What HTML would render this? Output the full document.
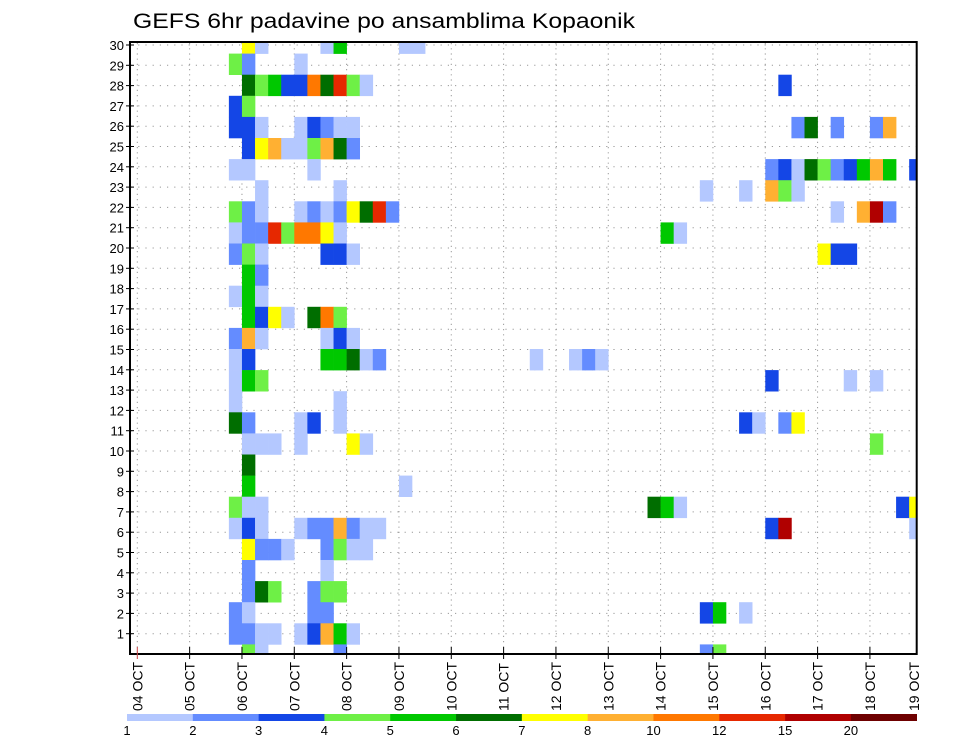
<!DOCTYPE html>
<html><head><meta charset="utf-8"><style>
html,body{margin:0;padding:0;background:#fff;}
svg{display:block;font-family:"Liberation Sans",sans-serif;}
</style></head><body>
<svg id="chart" width="960" height="742" viewBox="0 0 960 742" xmlns="http://www.w3.org/2000/svg">
<text x="133" y="28" font-size="21" textLength="502" lengthAdjust="spacingAndGlyphs" fill="#000">GEFS 6hr padavine po ansamblima Kopaonik</text>
<defs><clipPath id="plotclip"><rect x="130" y="42" width="786.7" height="612"/></clipPath></defs>
<g id="grid"></g>
<g id="cells" clip-path="url(#plotclip)"></g>
<rect x="130" y="42" width="786.7" height="612" fill="none" stroke="#000" stroke-width="2"/>
<g id="yaxis"></g>
<g id="xaxis"></g>
<g id="legend"></g>
</svg>
<script>
// x categories: day labels (04 OCT .. 19 OCT)
const dayLabels = ["04 OCT","05 OCT","06 OCT","07 OCT","08 OCT","09 OCT","10 OCT","11 OCT","12 OCT","13 OCT","14 OCT","15 OCT","16 OCT","17 OCT","18 OCT","19 OCT"];
// y categories: ensemble members
const memberLabels = [1,2,3,4,5,6,7,8,9,10,11,12,13,14,15,16,17,18,19,20,21,22,23,24,25,26,27,28,29,30];
// colorbar levels (mm) and colours
const levels = [1,2,3,4,5,6,7,8,10,12,15,20];
const levelColors = ["#b4c8ff","#648cff","#1446e6","#6ef046","#00c800","#006e00","#ffff00","#ffb032","#ff7800","#e62800","#b00000","#6e0000"];
// cells: [member, 6h step from 04 OCT 00Z, precipitation]
const cells = [
[30,8,7.5],[30,9,1.5],[30,14,1.5],[30,15,5.5],[30,20,1.5],[30,21,1.5],
[29,7,4.5],[29,8,2.5],[29,12,1.5],
[28,8,6.5],[28,9,4.5],[28,10,5.5],[28,11,3.5],[28,12,3.5],[28,13,11],[28,14,6.5],[28,15,13.5],[28,16,4.5],[28,17,1.5],[28,49,3.5],
[27,7,3.5],[27,8,4.5],
[26,7,3.5],[26,8,3.5],[26,9,1.5],[26,12,1.5],[26,13,3.5],[26,14,2.5],[26,15,1.5],[26,16,1.5],[26,50,2.5],[26,51,6.5],[26,53,2.5],[26,56,2.5],[26,57,9],
[25,8,3.5],[25,9,7.5],[25,10,9],[25,11,1.5],[25,12,1.5],[25,13,4.5],[25,14,9],[25,15,6.5],[25,16,2.5],
[24,7,1.5],[24,8,1.5],[24,13,1.5],[24,48,2.5],[24,49,3.5],[24,50,1.5],[24,51,6.5],[24,52,4.5],[24,53,2.5],[24,54,3.5],[24,55,5.5],[24,56,9],[24,57,5.5],[24,59,3.5],
[23,9,1.5],[23,15,1.5],[23,43,1.5],[23,46,1.5],[23,48,9],[23,49,4.5],[23,50,1.5],
[22,7,4.5],[22,8,2.5],[22,9,1.5],[22,12,1.5],[22,13,2.5],[22,14,1.5],[22,15,2.5],[22,16,7.5],[22,17,6.5],[22,18,13.5],[22,19,2.5],[22,53,1.5],[22,55,9],[22,56,17],[22,57,2.5],
[21,7,1.5],[21,8,2.5],[21,9,2.5],[21,10,13.5],[21,11,4.5],[21,12,11],[21,13,11],[21,14,7.5],[21,15,1.5],[21,40,5.5],[21,41,1.5],
[20,7,2.5],[20,8,4.5],[20,9,1.5],[20,14,3.5],[20,15,3.5],[20,16,1.5],[20,52,7.5],[20,53,3.5],[20,54,3.5],
[19,8,5.5],[19,9,2.5],
[18,7,1.5],[18,8,5.5],[18,9,1.5],
[17,8,5.5],[17,9,3.5],[17,10,7.5],[17,11,1.5],[17,13,6.5],[17,14,11],[17,15,4.5],
[16,7,2.5],[16,8,9],[16,9,1.5],[16,14,1.5],[16,15,3.5],[16,16,1.5],
[15,7,1.5],[15,8,3.5],[15,14,5.5],[15,15,5.5],[15,16,6.5],[15,17,1.5],[15,18,2.5],[15,30,1.5],[15,33,1.5],[15,34,2.5],[15,35,1.5],
[14,7,1.5],[14,8,5.5],[14,9,4.5],[14,48,3.5],[14,54,1.5],[14,56,1.5],
[13,7,1.5],[13,15,1.5],
[12,7,6.5],[12,8,2.5],[12,12,1.5],[12,13,3.5],[12,15,1.5],[12,46,3.5],[12,47,1.5],[12,49,2.5],[12,50,7.5],
[11,8,1.5],[11,9,1.5],[11,10,1.5],[11,12,1.5],[11,16,7.5],[11,17,1.5],[11,56,4.5],
[10,8,6.5],
[9,8,5.5],[9,20,1.5],
[8,7,4.5],[8,8,1.5],[8,9,1.5],[8,39,6.5],[8,40,5.5],[8,41,1.5],[8,58,3.5],[8,59,7.5],
[7,7,1.5],[7,8,3.5],[7,9,1.5],[7,12,1.5],[7,13,2.5],[7,14,2.5],[7,15,9],[7,16,2.5],[7,17,1.5],[7,18,1.5],[7,48,3.5],[7,49,17],[7,59,1.5],
[6,8,7.5],[6,9,2.5],[6,10,2.5],[6,11,1.5],[6,14,2.5],[6,15,4.5],[6,16,1.5],[6,17,1.5],
[5,8,2.5],[5,14,1.5],
[4,8,2.5],[4,9,6.5],[4,10,4.5],[4,13,2.5],[4,14,4.5],[4,15,4.5],
[3,7,2.5],[3,8,1.5],[3,13,2.5],[3,14,2.5],[3,43,3.5],[3,44,5.5],[3,46,1.5],
[2,7,2.5],[2,8,2.5],[2,9,1.5],[2,10,1.5],[2,12,1.5],[2,13,3.5],[2,14,9],[2,15,5.5],[2,16,1.5],
[1,8,4.5],[1,9,1.5],[1,15,2.5],[1,43,2.5],[1,44,4.5]
];

const NS = "http://www.w3.org/2000/svg";
const X0 = 137.3, DAY = 52.33, STEP = DAY / 4;
const xDay = d => X0 + DAY * d;
const xStep = s => X0 + STEP * s;
const yLabel = m => 654 - 20.3 * m;
const cellH = 21.1;
const yCellTop = m => 665.5 - cellH * m;
function colorFor(v) {
  let idx = 0;
  for (let i = 0; i < levels.length; i++) if (v >= levels[i]) idx = i;
  return levelColors[idx];
}
function mk(tag, attrs, parent) {
  const e = document.createElementNS(NS, tag);
  for (const k in attrs) e.setAttribute(k, attrs[k]);
  parent.appendChild(e);
  return e;
}
const grid = document.getElementById('grid');
const cellG = document.getElementById('cells');
const yax = document.getElementById('yaxis');
const xax = document.getElementById('xaxis');
const leg = document.getElementById('legend');

memberLabels.forEach(m => {
  const y = yLabel(m);
  const l = mk('line', {x1: 131, x2: 916, y1: y, y2: y, stroke: '#999', 'stroke-width': 1, 'stroke-dasharray': '1.2 6'}, grid);
  
  
  const t = mk('line', {x1: 126, x2: 134, y1: y, y2: y, stroke: '#000', 'stroke-width': 1}, yax);
  
  
  const lb = mk('text', {x: 124, y: y + 5, 'font-size': 13, 'text-anchor': 'end', fill: '#000'}, yax);
  
  
  lb.textContent = m;
});
dayLabels.forEach((d, i) => {
  const x = xDay(i);
  if (x < 916) {
    const l = mk('line', {x1: x, x2: x, y1: 43, y2: 653, stroke: '#999', 'stroke-width': 1, 'stroke-dasharray': '1.2 4'}, grid);
    
    
    const t = mk('line', {x1: x, x2: x, y1: 647, y2: 659, stroke: i === 0 ? '#c44' : '#000', 'stroke-width': 1}, xax);
    
    
  }
  const lx = Math.min(x, 914) + 5;
  const lb = mk('text', {x: lx, y: 711, 'font-size': 14, transform: `rotate(-90 ${lx} 711)`, fill: '#000'}, xax);
  
  
  lb.textContent = d;
});
cells.forEach(c => {
  const [m, s, v] = c;
  const r = mk('rect', {x: xStep(s), y: yCellTop(m), width: STEP + 0.3, height: cellH + 0.3, fill: colorFor(v)}, cellG);
  
  
});
const LX0 = 127, LW = (916.7 - 127) / levels.length;
levels.forEach((lv, i) => {
  const r = mk('rect', {x: LX0 + LW * i, y: 714, width: LW + 0.3, height: 7, fill: levelColors[i]}, leg);
  
  
  const t = mk('text', {x: LX0 + LW * i, y: 735, 'font-size': 13, 'text-anchor': 'middle', fill: '#000'}, leg);
  
  
  t.textContent = lv;
});
</script>
</body></html>
